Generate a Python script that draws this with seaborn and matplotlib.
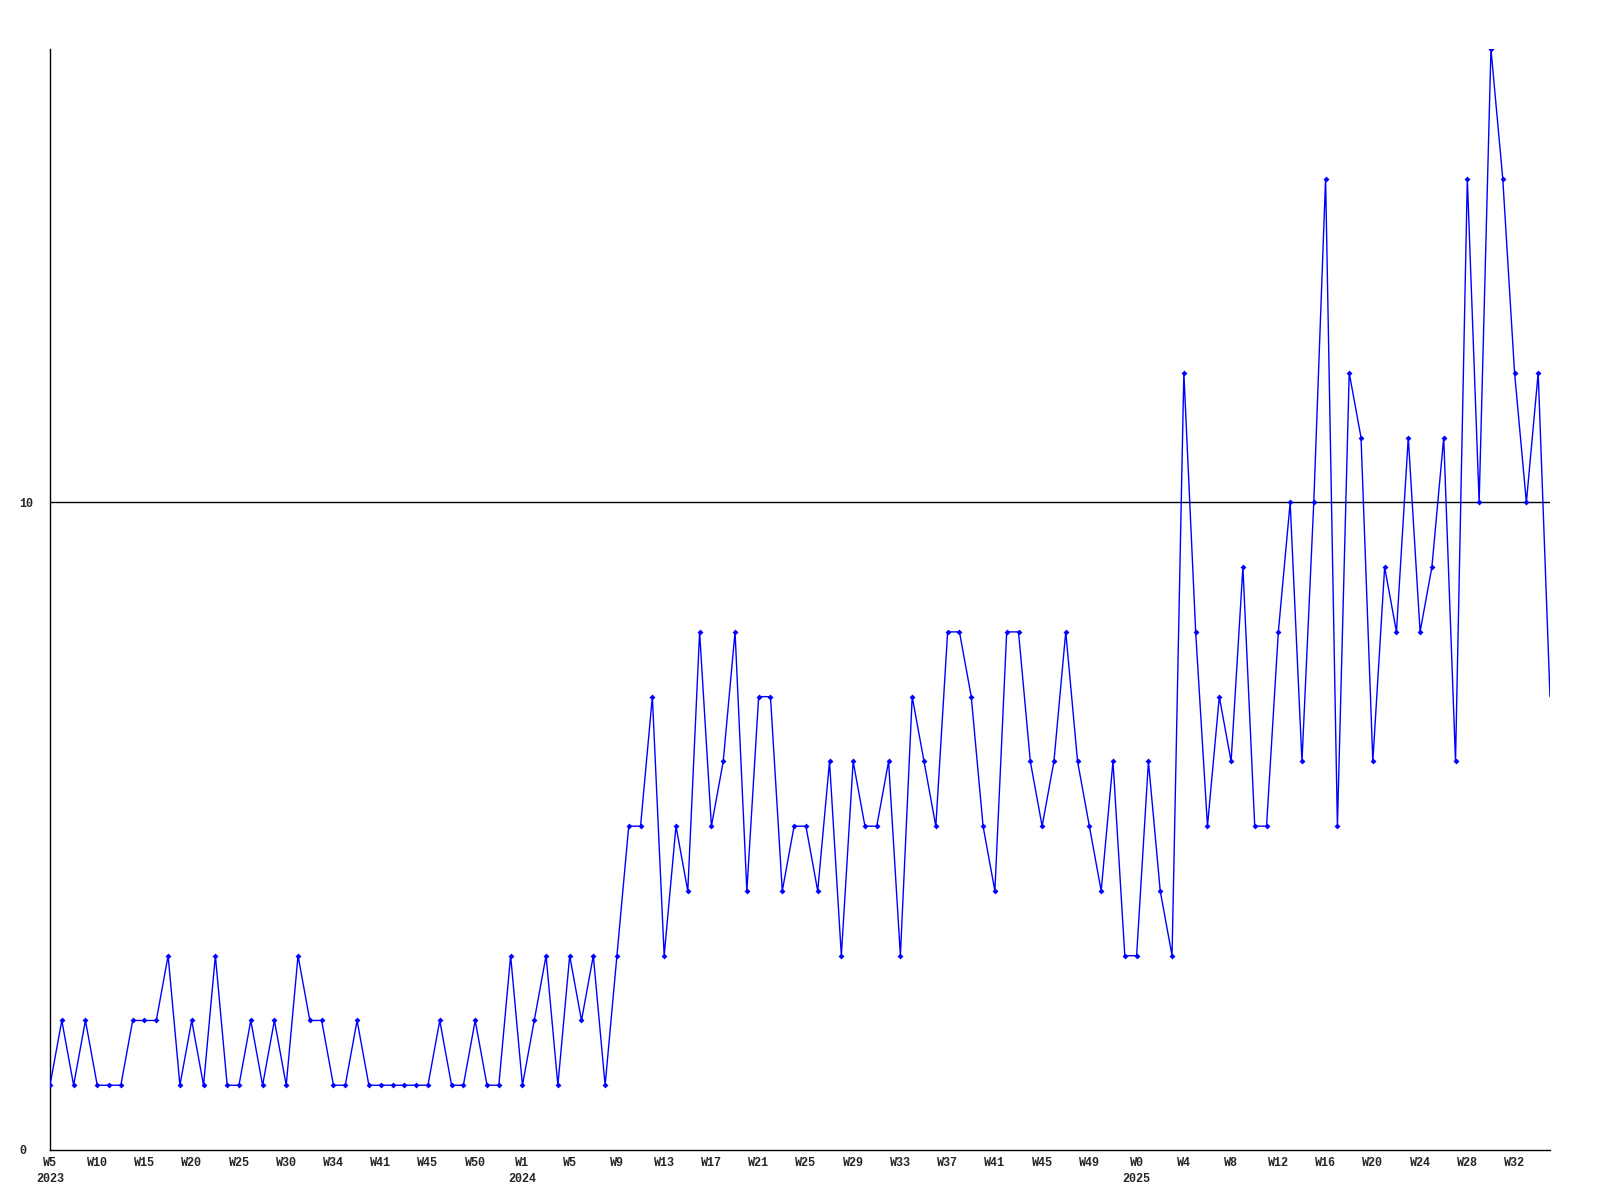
import numpy as np
import pandas as pd
import matplotlib
matplotlib.use("Agg")
import matplotlib.pyplot as plt
import seaborn as sns

# Weekly counts (categorical index, one point per data week)
values_2023 = [1, 2, 1, 2, 1, 1, 1, 2, 2, 2, 3, 1, 2, 1, 3, 1, 1, 2, 1, 2,
               1, 3, 2, 2, 1, 1, 2, 1, 1, 1, 1, 1, 1, 2, 1, 1, 2, 1, 1, 3]
values_2024 = [1, 2, 3, 1, 3, 2, 3, 1, 3, 5, 5, 7, 3, 5, 4, 8, 5, 6, 8, 4,
               7, 7, 4, 5, 5, 4, 6, 3, 6, 5, 5, 6, 3, 7, 6, 5, 8, 8, 7, 5,
               4, 8, 8, 6, 5, 6, 8, 6, 5, 4, 6, 3, 3]
values_2025 = [6, 4, 3, 12, 8, 5, 7, 6, 9, 5, 5, 8, 10, 6, 10, 15, 5, 12, 11, 6,
               9, 8, 11, 8, 9, 11, 6, 15, 10, 17, 15, 12, 10, 12, 7]

# Tick labels every 4th point
tick_labels = ["W5\n2023", "W10", "W15", "W20", "W25", "W30", "W34", "W41", "W45", "W50",
               "W1\n2024", "W5", "W9", "W13", "W17", "W21", "W25", "W29", "W33", "W37",
               "W41", "W45", "W49", "W0\n2025", "W4", "W8", "W12", "W16", "W20", "W24",
               "W28", "W32"]

values = values_2023 + values_2024 + values_2025
df = pd.DataFrame({"idx": np.arange(len(values)), "count": values})

sns.set_theme(style="white")
plt.rcParams["font.family"] = ["Liberation Mono", "DejaVu Sans Mono"]
plt.rcParams["font.weight"] = "bold"

fig = plt.figure(figsize=(16, 12), dpi=100)
ax = fig.add_axes([50 / 1600, 1 - 1150 / 1200, 1500 / 1600, 1101 / 1200])

ax.axhline(10, color="black", lw=1.0, zorder=1)
sns.lineplot(data=df, x="idx", y="count", ax=ax, color="#0000FF", lw=1.0,
             marker="D", markersize=3, markeredgewidth=0, zorder=3,
             markevery=list(range(len(values) - 1)))

ax.set_xlim(0, len(values) - 1)
ax.set_ylim(0, 17)
ax.set_xticks(np.arange(0, len(values), 4)[:len(tick_labels)])
ax.set_xticklabels(tick_labels, fontsize=8.5, fontweight="bold", linespacing=1.5)
ax.set_yticks([0, 10])
ax.set_yticklabels(["0", "10"], fontsize=8.5, fontweight="bold")
for lab in ax.get_yticklabels():
    lab.set_horizontalalignment("left")
ax.tick_params(axis="y", length=0, pad=22.3)
ax.tick_params(axis="x", length=0, pad=5)
ax.set_xlabel("")
ax.set_ylabel("")
for s in ["top", "right"]:
    ax.spines[s].set_visible(False)
for s in ["left", "bottom"]:
    ax.spines[s].set_color("black")
    ax.spines[s].set_linewidth(1.0)
ax.grid(False)

fig.savefig("out.png", dpi=100, facecolor="white")
